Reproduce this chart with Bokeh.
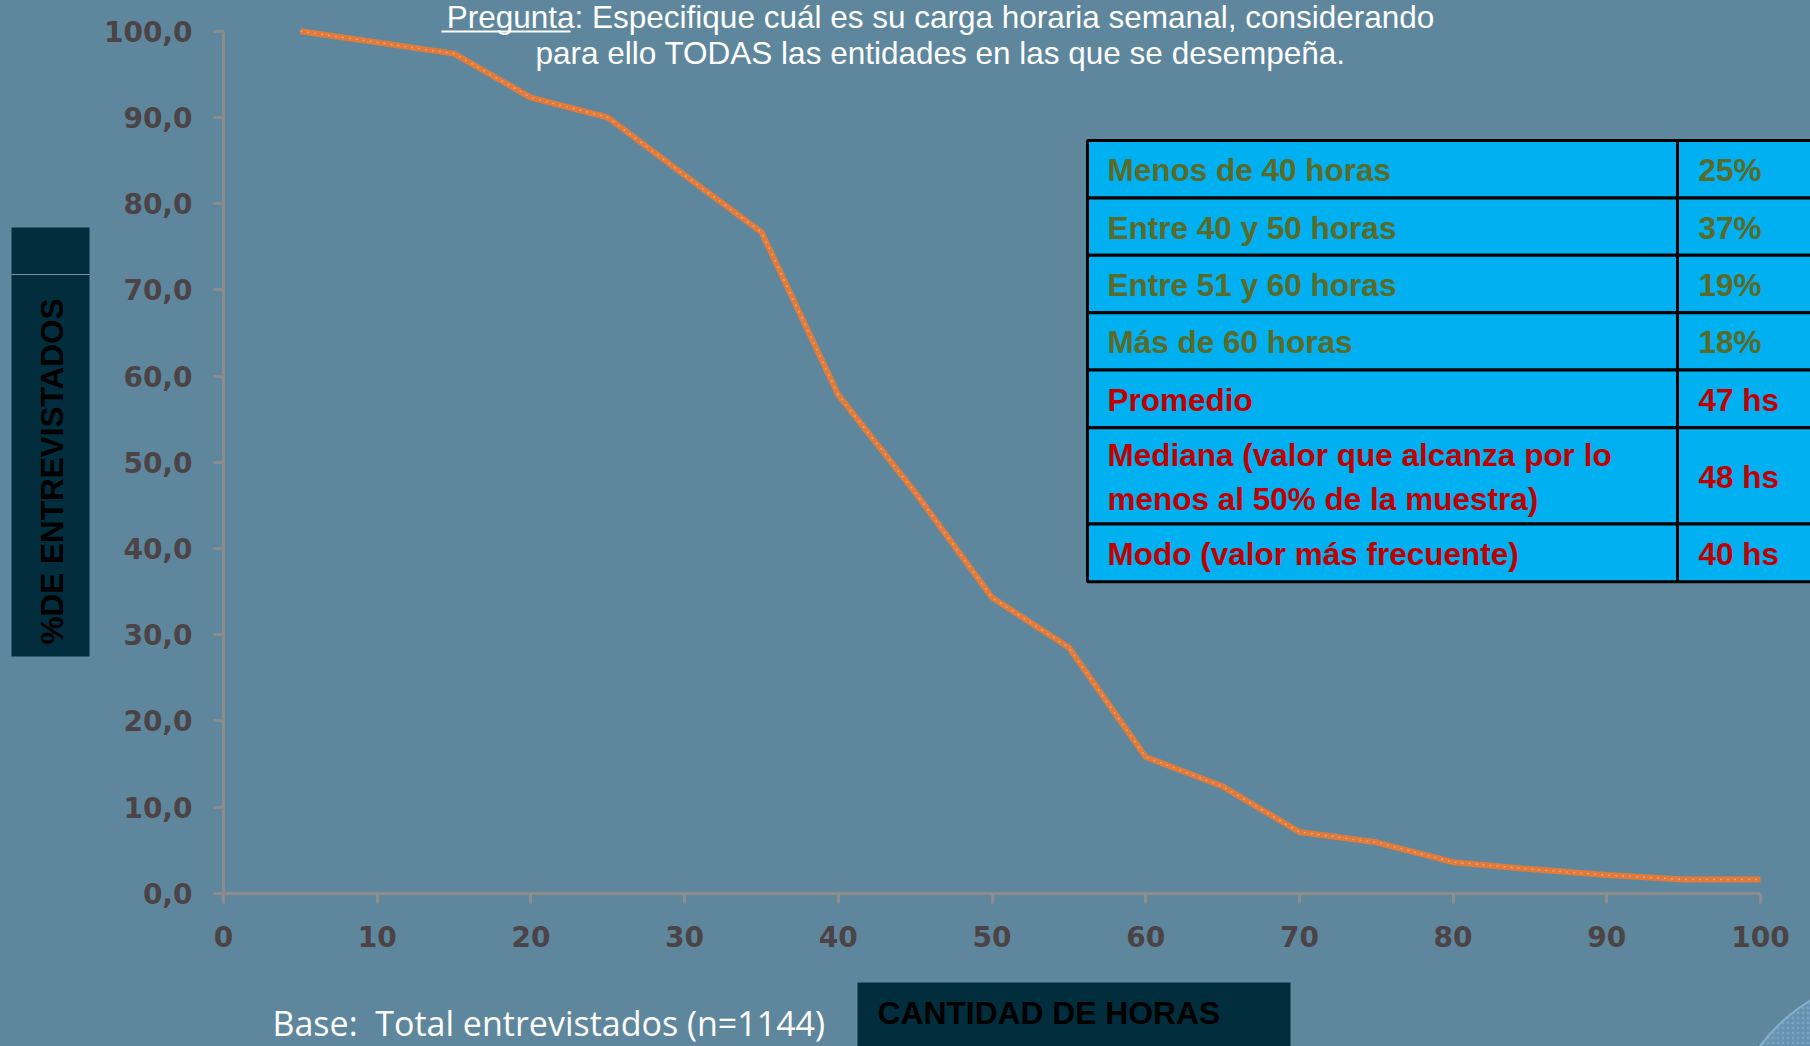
import math
from bokeh.plotting import figure
from bokeh.models import Range1d, FixedTicker
from bokeh.embed import file_html
from bokeh.resources import INLINE
from bokeh.core.properties import value

# ---------------- data ----------------
hours = [5, 10, 15, 20, 25, 30, 35, 40, 45, 50, 55, 60, 65, 70, 75, 80, 85, 90, 95, 100]
pct = [100.0, 98.7, 97.4, 92.3, 90.0, 83.3, 76.7, 57.8, 46.5, 34.3, 28.5, 15.8,
       12.4, 7.1, 5.9, 3.6, 2.8, 2.1, 1.6, 1.6]

x_ticks = [0, 10, 20, 30, 40, 50, 60, 70, 80, 90, 100]
y_ticks = [0, 10, 20, 30, 40, 50, 60, 70, 80, 90, 100]
y_tick_labels = ["0,0", "10,0", "20,0", "30,0", "40,0", "50,0", "60,0",
                 "70,0", "80,0", "90,0", "100,0"]

table_labels = ["Menos de 40 horas", "Entre 40 y 50 horas", "Entre 51 y 60 horas",
                "Más de 60 horas", "Promedio",
                "Mediana (valor que alcanza por lo\nmenos al 50% de la muestra)",
                "Modo (valor más frecuente)"]
table_values = ["25%", "37%", "19%", "18%", "47 hs", "48 hs", "40 hs"]
table_kind = ["share", "share", "share", "share", "stat", "stat", "stat"]

title_line1 = "Pregunta: Especifique cuál es su carga horaria semanal, considerando"
title_line2 = "para ello TODAS las entidades en las que se desempeña."
y_title = "%DE ENTREVISTADOS"
x_title = "CANTIDAD DE HORAS"
base_note = "Base:\u00a0 Total entrevistados (n=1144)"

# ---------------- layout (page pixels) ----------------
BG = "#5e879d"
W, H, OFF = 1810, 1046, 0
X0_PX, X100_PX = 223.0, 1760.0
Y0_PX, Y100_PX = 892.7, 30.7
SX = (X100_PX - X0_PX) / 100.0
SY = (Y0_PX - Y100_PX) / 100.0


def dx(px):
    return (px - X0_PX) / SX


def dy(py):
    return (Y0_PX - py) / SY


p = figure(width=W, height=H, x_range=Range1d(dx(OFF), dx(OFF + W)),
           y_range=Range1d(dy(OFF + H), dy(OFF)), min_border=0,
           toolbar_location=None, output_backend="svg",
           background_fill_color=BG, border_fill_color=BG, outline_line_color=None)
p.grid.visible = False

AX = "#8c8c8c"
LBL = "#4b4345"
for ax in (p.xaxis[0], p.yaxis[0]):
    ax.fixed_location = 0
    ax.bounds = (0, 100)
    ax.axis_line_color = AX
    ax.axis_line_width = 3
    ax.major_tick_line_color = AX
    ax.major_tick_line_width = 3
    ax.major_tick_in = 0
    ax.major_tick_out = 10
    ax.minor_tick_line_color = None
    ax.major_label_text_font = "DejaVu Sans"
    ax.major_label_text_font_style = "bold"
    ax.major_label_text_font_size = "28px"
    ax.major_label_text_color = LBL
p.xaxis[0].ticker = FixedTicker(ticks=x_ticks)
p.yaxis[0].ticker = FixedTicker(ticks=y_ticks)
p.yaxis[0].major_label_overrides = {t: s for t, s in zip(y_ticks, y_tick_labels)}
p.yaxis[0].major_label_standoff = 21
p.xaxis[0].major_label_standoff = 23

# decorative corner arc
p.circle(x=[dx(1900)], y=[dy(1150)], radius=175, radius_units="screen",
         fill_color="#6793b0", line_color="#86b0cc", line_width=2,
         hatch_pattern="dot", hatch_color="#7aa6c4", hatch_scale=5)

# data line
p.line(hours, pct, line_width=6, line_color="#e07b3b", line_join="round")
p.line(hours, pct, line_width=1.5, line_color="#f2b48c", line_dash="2 5",
       line_alpha=0.7)

# y title box
p.quad(left=[dx(11)], right=[dx(89)], top=[dy(227)], bottom=[dy(656)],
       fill_color="#012d3c", line_color=None)
p.segment(x0=[dx(11)], x1=[dx(89)], y0=[dy(274)], y1=[dy(274)],
          line_color="#6f98b0", line_width=1)
p.text(x=[dx(51)], y=[dy(471)], text=[y_title], angle=math.pi / 2,
       text_align="center", text_baseline="middle", text_color="#000000",
       text_font=value("Liberation Sans"), text_font_style="bold",
       text_font_size="31.5px")

# x title box
p.quad(left=[dx(857)], right=[dx(1290)], top=[dy(982)], bottom=[dy(1060)],
       fill_color="#012d3c", line_color=None)
p.text(x=[dx(877)], y=[dy(1012)], text=[x_title], text_align="left",
       text_baseline="middle", text_color="#000000",
       text_font=value("Liberation Sans"), text_font_style="bold",
       text_font_size="31.8px")

# base note
p.text(x=[dx(272)], y=[dy(1022)], text=[base_note], text_align="left",
       text_baseline="middle", text_color="#ffffff",
       text_font=value("Open Sans"), text_font_size="34px")

# title
p.text(x=[dx(940), dx(940)], y=[dy(16), dy(52.5)], text=[title_line1, title_line2],
       text_align="center", text_baseline="alphabetic", text_color="#ffffff",
       text_font=value("Liberation Sans"), text_font_size="31.5px")
p.segment(x0=[dx(441)], x1=[dx(570)], y0=[dy(31)], y1=[dy(31)],
          line_color="#ffffff", line_width=2)

# table
row_heights = [57.4, 57.4, 57.4, 57.4, 57.7, 96.3, 57.7]
TOP = 140.0
tops, bots = [], []
cur = TOP
for h in row_heights:
    tops.append(cur)
    cur += h
    bots.append(cur)
L0, L1, L2 = 1087.0, 1677.0, 1850.0
lefts = [dx(L0)] * len(tops) + [dx(L1)] * len(tops)
rights = [dx(L1)] * len(tops) + [dx(L2)] * len(tops)
qt = [dy(t) for t in tops] * 2
qb = [dy(b) for b in bots] * 2
p.quad(left=lefts, right=rights, top=qt, bottom=qb, fill_color="#00b0f0",
       line_color="#000000", line_width=3)
colors = ["#5a6a28" if k == "share" else "#c00000" for k in table_kind]
mids = [dy((t + b) / 2 + 1) for t, b in zip(tops, bots)]
p.text(x=[dx(1107)] * len(mids), y=mids, text=table_labels, text_align="left",
       text_baseline="middle", text_color=colors, text_line_height=1.24,
       text_font=value("Liberation Sans"), text_font_style="bold",
       text_font_size="31.5px")
p.text(x=[dx(1698)] * len(mids), y=mids, text=table_values, text_align="left",
       text_baseline="middle", text_color=colors,
       text_font=value("Liberation Sans"), text_font_style="bold",
       text_font_size="31.5px")

html = file_html(p, INLINE)
html = html.replace("<head>", "<head><style>html,body{background:%s;}</style>" % BG, 1)
open("out.html", "w").write(html)
